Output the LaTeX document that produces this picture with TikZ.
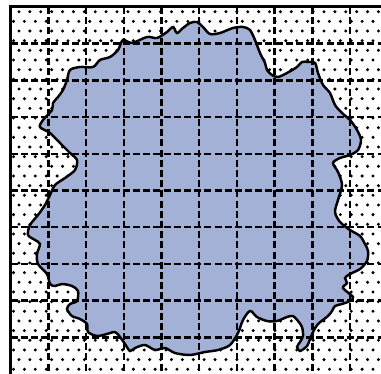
\documentclass[tikz,border=0pt]{standalone}
\usepackage{tikz}
\usetikzlibrary{patterns}
\definecolor{blobblue}{RGB}{164,177,214}

\pgfdeclarepatternformonly{sparsedots}{\pgfqpoint{-1pt}{-1pt}}{\pgfqpoint{7pt}{12pt}}{\pgfqpoint{6.2pt}{11pt}}{
  \pgfpathcircle{\pgfqpoint{1.5pt}{2.7pt}}{0.95pt}
  \pgfpathcircle{\pgfqpoint{4.6pt}{8.2pt}}{0.95pt}
  \pgfusepath{fill}}

\tikzset{
  gridline/.style={black, line width=1.4pt, dash pattern=on 4pt off 1.8pt},
  frameline/.style={black, line width=1.7pt},
  blobline/.style={black, line width=1.4pt, fill=blobblue},
}

\begin{document}
\begin{tikzpicture}[x=0.02cm, y=-0.02cm]
\useasboundingbox (0,0) rectangle (381,374);
\begin{scope}
\clip (0,0) rectangle (381,374);
% dotted background
\fill[pattern=sparsedots] (10.7,7) rectangle (387.7,374);
% irregular region
\draw[blobline] plot[smooth cycle, tension=0.5] coordinates {
  (40,127) (43,120) (52,110) (53,103) (58,97) (63,90) (67,80) (70,70) (80,67) (93,67)
  (100,60) (110,57) (118,50) (123,40) (132,43) (147,37) (157,38) (167,32) (173,27) (177,33)
  (183,28) (190,23) (197,22) (203,27) (210,34) (220,33) (233,28) (243,27) (250,30) (255,40)
  (260,53) (265,63) (267,70) (272,75) (278,77) (287,73) (297,67) (302,62) (308,62) (315,63)
  (318,73) (323,85) (330,93) (335,105) (342,113) (350,120) (357,130) (361,140) (358,150) (350,155)
  (340,158) (333,163) (338,172) (342,185) (338,200) (335,212) (340,222) (350,230) (360,236) (365,244)
  (368,251) (367,261) (360,269) (350,274) (345,278) (347,283) (343,288) (353,297) (350,301) (342,304)
  (335,306) (332,311) (328,316) (318,324) (313,332) (310,339) (307,346) (300,351) (297,347) (300,342)
  (303,336) (302,327) (298,321) (293,316) (287,317) (277,321) (267,321) (257,317) (250,311) (243,320)
  (238,333) (230,345) (218,350) (205,352) (190,355) (175,353) (165,348) (155,350) (145,345) (135,348)
  (130,351) (125,344) (120,337) (115,332) (107,334) (97,336) (88,332) (87,324) (80,319) (72,316)
  (67,309) (70,304) (77,301) (78,291) (72,286) (62,284) (55,286) (50,284) (47,274) (38,264)
  (37,254) (40,244) (35,240) (28,235) (30,225) (38,215) (45,205) (50,195) (55,185) (65,178)
  (75,170) (77,160) (70,153) (60,143) (50,133)};
% dashed grid
\foreach \i in {1,...,9} {
  \draw[gridline] ({10.7+37.7*\i},7) -- ({10.7+37.7*\i},374);
  \draw[gridline] (10.7,{7+36.7*\i}) -- (387.7,{7+36.7*\i});
}
% frame
\draw[frameline] (10.7,374) -- (10.7,7) -- (387.7,7);
\end{scope}
\end{tikzpicture}
\end{document}
